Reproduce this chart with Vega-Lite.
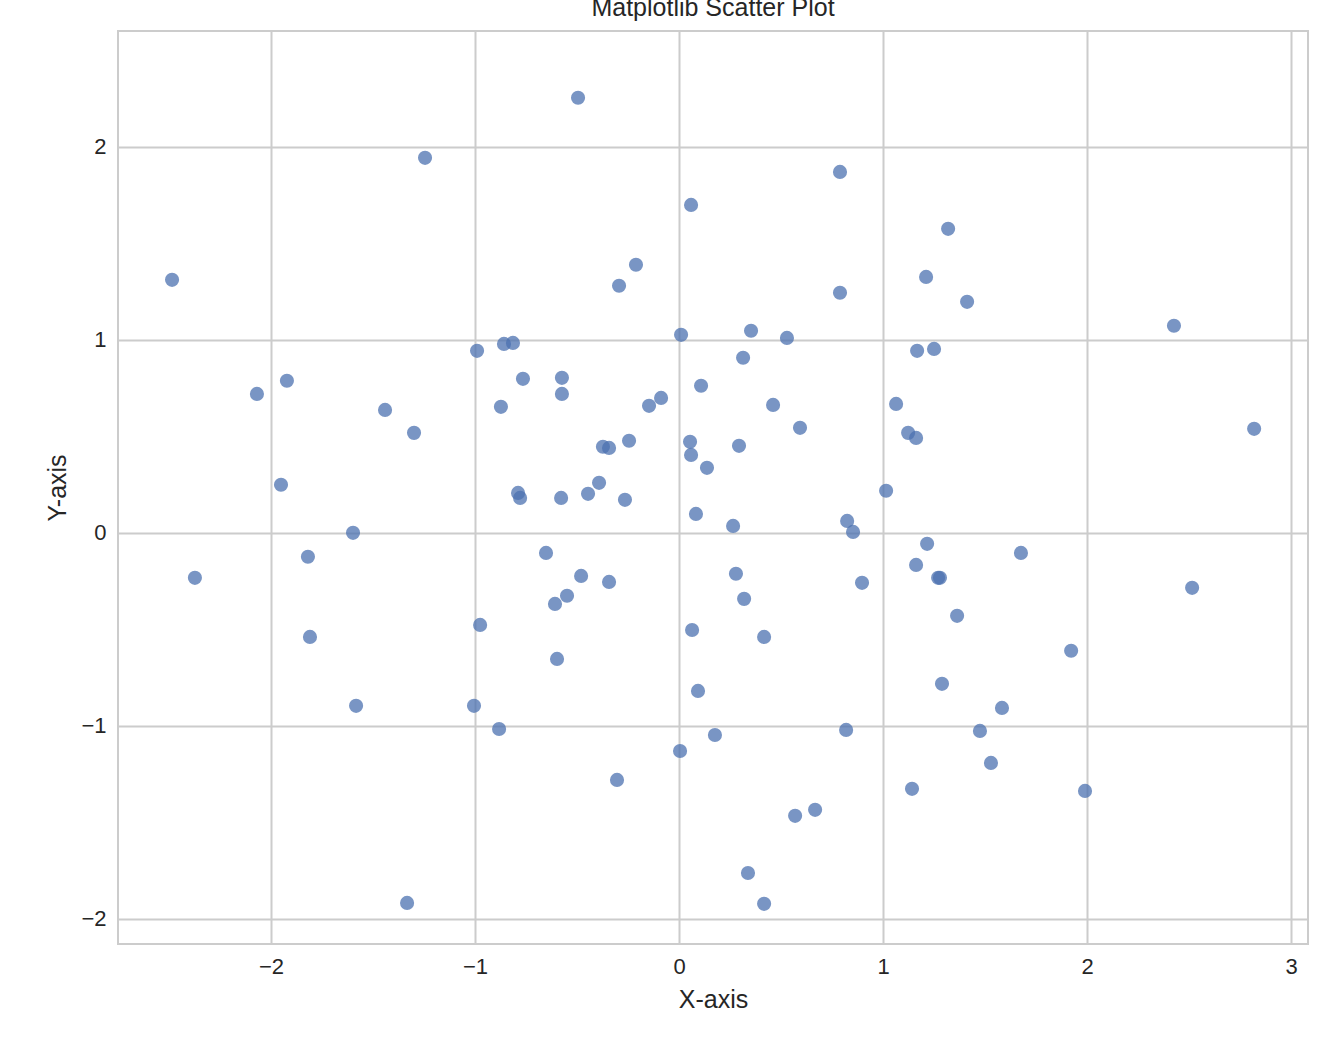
{
  "$schema": "https://vega.github.io/schema/vega-lite/v6.json",
  "width": 1190, "height": 913,
  "autosize": {"type": "none"},
  "padding": {"left": 118, "top": 31, "right": 19, "bottom": 113},
  "background": "white",
  "title": {"text": "Matplotlib Scatter Plot", "font": "Liberation Sans", "fontSize": 25, "fontWeight": "normal", "color": "#262626", "offset": 10},
  "config": {
    "view": {"stroke": "#cccccc", "strokeWidth": 2},
    "axis": {"grid": true, "gridColor": "#cccccc", "gridWidth": 2, "domain": false, "ticks": false,
      "labelFont": "Liberation Sans", "labelFontSize": 22, "labelColor": "#262626", "labelPadding": 12,
      "titleFont": "Liberation Sans", "titleFontSize": 25, "titleFontWeight": "normal", "titleColor": "#262626", "titlePadding": 10}
  },
  "data": {"values": [
    {"x":-2.485,"y":1.311},{"x":-2.373,"y":-0.233},{"x":-2.069,"y":0.72},{"x":-1.922,"y":0.788},{"x":-1.951,"y":0.249},
    {"x":-1.819,"y":-0.124},{"x":-1.809,"y":-0.539},{"x":-1.598,"y":0},{"x":-1.583,"y":-0.896},{"x":-1.441,"y":0.637},
    {"x":-1.333,"y":-1.917},{"x":-1.299,"y":0.518},{"x":-1.245,"y":1.943},{"x":-0.99,"y":0.943},{"x":-0.975,"y":-0.477},
    {"x":-1.005,"y":-0.896},{"x":-0.882,"y":-1.016},{"x":-0.873,"y":0.653},{"x":-0.858,"y":0.979},{"x":-0.814,"y":0.984},
    {"x":-0.789,"y":0.207},{"x":-0.779,"y":0.181},{"x":-0.765,"y":0.798},{"x":-0.652,"y":-0.104},{"x":-0.608,"y":-0.368},
    {"x":-0.598,"y":-0.653},{"x":-0.578,"y":0.181},{"x":-0.574,"y":0.803},{"x":-0.574,"y":0.72},{"x":-0.549,"y":-0.326},
    {"x":-0.495,"y":2.254},{"x":-0.48,"y":-0.223},{"x":-0.446,"y":0.202},{"x":-0.392,"y":0.259},{"x":-0.373,"y":0.446},
    {"x":-0.343,"y":0.44},{"x":-0.343,"y":-0.254},{"x":-0.304,"y":-1.28},{"x":-0.294,"y":1.28},{"x":-0.265,"y":0.171},
    {"x":-0.245,"y":0.477},{"x":-0.211,"y":1.389},{"x":-0.147,"y":0.658},{"x":-0.088,"y":0.699},{"x":0.005,"y":-1.13},
    {"x":0.01,"y":1.026},{"x":0.054,"y":0.472},{"x":0.059,"y":0.404},{"x":0.059,"y":1.699},{"x":0.064,"y":-0.503},
    {"x":0.083,"y":0.098},{"x":0.093,"y":-0.819},{"x":0.108,"y":0.762},{"x":0.137,"y":0.337},{"x":0.176,"y":-1.047},
    {"x":0.265,"y":0.036},{"x":0.279,"y":-0.212},{"x":0.294,"y":0.451},{"x":0.314,"y":0.907},{"x":0.319,"y":-0.342},
    {"x":0.338,"y":-1.762},{"x":0.353,"y":1.047},{"x":0.417,"y":-0.539},{"x":0.417,"y":-1.922},{"x":0.461,"y":0.663},
    {"x":0.529,"y":1.01},{"x":0.569,"y":-1.466},{"x":0.593,"y":0.544},{"x":0.667,"y":-1.435},{"x":0.789,"y":1.87},
    {"x":0.789,"y":1.244},{"x":0.819,"y":-1.021},{"x":0.824,"y":0.062},{"x":0.853,"y":0.005},{"x":0.897,"y":-0.259},
    {"x":1.015,"y":0.218},{"x":1.064,"y":0.668},{"x":1.123,"y":0.518},{"x":1.142,"y":-1.326},{"x":1.162,"y":0.492},
    {"x":1.162,"y":-0.166},{"x":1.167,"y":0.943},{"x":1.211,"y":1.326},{"x":1.216,"y":-0.057},{"x":1.25,"y":0.953},
    {"x":1.27,"y":-0.233},{"x":1.279,"y":-0.233},{"x":1.289,"y":-0.782},{"x":1.319,"y":1.575},{"x":1.363,"y":-0.43},
    {"x":1.412,"y":1.197},{"x":1.475,"y":-1.026},{"x":1.529,"y":-1.192},{"x":1.583,"y":-0.907},{"x":1.676,"y":-0.104},
    {"x":1.922,"y":-0.611},{"x":1.99,"y":-1.337},{"x":2.426,"y":1.073},{"x":2.515,"y":-0.285},{"x":2.819,"y":0.539}
  ]},
  "mark": {"type": "circle", "size": 200, "color": "#4c72b0", "opacity": 0.75},
  "encoding": {
    "x": {"field": "x", "type": "quantitative", "title": "X-axis",
      "scale": {"domain": [-2.75, 3.083], "nice": false, "zero": false},
      "axis": {"values": [-2, -1, 0, 1, 2, 3], "format": "d"}},
    "y": {"field": "y", "type": "quantitative", "title": "Y-axis",
      "scale": {"domain": [-2.13, 2.6], "nice": false, "zero": false},
      "axis": {"values": [-2, -1, 0, 1, 2], "format": "d"}}
  }
}
